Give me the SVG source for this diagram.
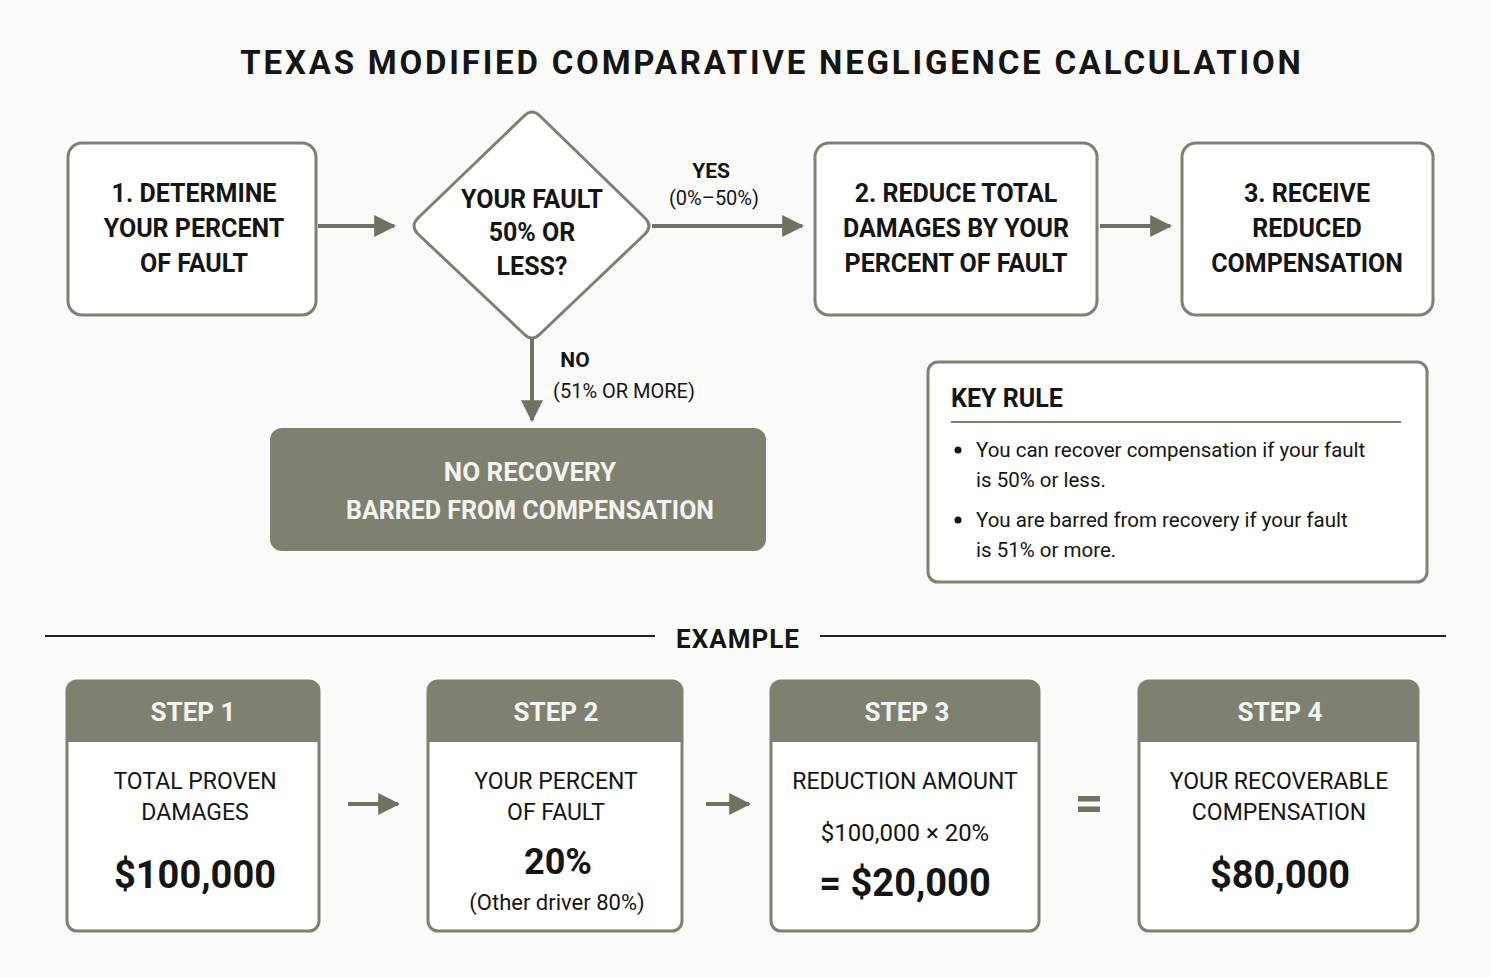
<svg xmlns="http://www.w3.org/2000/svg" width="1491" height="977" viewBox="0 0 1491 977">
<defs>
<style>
.box{fill:#fff;stroke:#7e8171;stroke-width:3}
.fill{fill:#7e8171}
.t{font-family:Roboto,"DejaVu Sans",sans-serif;fill:#151515;text-anchor:middle}
.b{font-weight:bold}
.w{fill:#f4f4ee}
.ln{stroke:#6f7263;stroke-width:4;fill:none}
</style>
<marker id="ah" viewBox="0 0 10 10" refX="9" refY="5" markerWidth="5.5" markerHeight="5.5" orient="auto"><path d="M0,0L10,5L0,10z" fill="#6f7263"/></marker>
</defs>
<rect width="1491" height="977" fill="#fafaf8"/>
<text class="t b" x="772" y="74" font-size="33" letter-spacing="2.8">TEXAS MODIFIED COMPARATIVE NEGLIGENCE CALCULATION</text>

<g id="connectors">
<line class="ln" x1="318" y1="226" x2="394" y2="226" marker-end="url(#ah)"/>
<line class="ln" x1="652" y1="226" x2="802" y2="226" marker-end="url(#ah)"/>
<line class="ln" x1="1100" y1="226" x2="1170" y2="226" marker-end="url(#ah)"/>
<line class="ln" x1="532" y1="338" x2="532" y2="420" marker-end="url(#ah)"/>
<line class="ln" x1="348" y1="804" x2="398" y2="804" marker-end="url(#ah)"/>
<line class="ln" x1="706" y1="804" x2="749" y2="804" marker-end="url(#ah)"/>
<text class="t b" x="711" y="178" font-size="21">YES</text>
<text class="t" x="714" y="205" font-size="20">(0%–50%)</text>
<text class="t b" x="575" y="367" font-size="21">NO</text>
<text class="t" x="624" y="398" font-size="20">(51% OR MORE)</text>
</g>

<g id="n1"><rect class="box" x="68" y="143" width="248" height="172" rx="14"/>
<text class="t b" font-size="25" x="194" y="202">1. DETERMINE</text><text class="t b" font-size="25" x="194" y="237">YOUR PERCENT</text><text class="t b" font-size="25" x="194" y="272">OF FAULT</text></g>

<g id="n2"><path class="box" d="M524,116Q532,108 540,116L645,218Q653,226 645,234L540,334Q532,342 524,334L418,234Q410,226 418,218Z"/>
<text class="t b" font-size="25" x="532" y="208">YOUR FAULT</text><text class="t b" font-size="25" x="532" y="241">50% OR</text><text class="t b" font-size="25" x="532" y="275">LESS?</text></g>

<g id="n3"><rect class="box" x="815" y="143" width="282" height="172" rx="14"/>
<text class="t b" font-size="25" x="956" y="202">2. REDUCE TOTAL</text><text class="t b" font-size="25" x="956" y="237">DAMAGES BY YOUR</text><text class="t b" font-size="25" x="956" y="272">PERCENT OF FAULT</text></g>

<g id="n4"><rect class="box" x="1182" y="143" width="251" height="172" rx="14"/>
<text class="t b" font-size="25" x="1307" y="202">3. RECEIVE</text><text class="t b" font-size="25" x="1307" y="237">REDUCED</text><text class="t b" font-size="25" x="1307" y="272">COMPENSATION</text></g>

<g id="n5"><rect class="fill" x="270" y="428" width="496" height="123" rx="12"/>
<text class="t b w" font-size="26" x="530" y="481">NO RECOVERY</text><text class="t b w" font-size="25" x="530" y="519">BARRED FROM COMPENSATION</text></g>

<g id="keyrule"><rect class="box" x="928" y="362" width="499" height="220" rx="10"/>
<text class="t b" font-size="25" x="951" y="407" style="text-anchor:start">KEY RULE</text>
<line x1="951" y1="422" x2="1401" y2="422" stroke="#7e8171" stroke-width="2"/>
<g class="t" font-size="20.5">
<circle cx="958" cy="450" r="3.5" fill="#151515"/>
<text x="976" y="457" style="text-anchor:start">You can recover compensation if your fault</text>
<text x="976" y="487" style="text-anchor:start">is 50% or less.</text>
<circle cx="958" cy="520" r="3.5" fill="#151515"/>
<text x="976" y="527" style="text-anchor:start">You are barred from recovery if your fault</text>
<text x="976" y="557" style="text-anchor:start">is 51% or more.</text>
</g></g>

<line x1="45" y1="636" x2="655" y2="636" stroke="#222" stroke-width="2"/>
<line x1="820" y1="636" x2="1446" y2="636" stroke="#222" stroke-width="2"/>
<text class="t b" font-size="26" x="738" y="648" letter-spacing="1">EXAMPLE</text>

<g id="s1"><rect class="box" x="67" y="681" width="252" height="250" rx="10"/>
<path class="fill" d="M67,742V691Q67,681 77,681H309Q319,681 319,691V742Z"/>
<text class="t b w" font-size="26" x="193" y="721">STEP 1</text>
<text class="t" font-size="23" x="195" y="789">TOTAL PROVEN</text><text class="t" font-size="23" x="195" y="820">DAMAGES</text>
<text class="t b" font-size="38" x="195" y="888">$100,000</text></g>

<g id="s2"><rect class="box" x="428" y="681" width="254" height="250" rx="10"/>
<path class="fill" d="M428,742V691Q428,681 438,681H672Q682,681 682,691V742Z"/>
<text class="t b w" font-size="26" x="556" y="721">STEP 2</text>
<text class="t" font-size="23" x="556" y="789">YOUR PERCENT</text><text class="t" font-size="23" x="556" y="820">OF FAULT</text>
<text class="t b" font-size="36" x="558" y="874">20%</text>
<text class="t" font-size="22" x="557" y="910">(Other driver 80%)</text></g>

<g id="s3"><rect class="box" x="771" y="681" width="268" height="250" rx="10"/>
<path class="fill" d="M771,742V691Q771,681 781,681H1029Q1039,681 1039,691V742Z"/>
<text class="t b w" font-size="26" x="907" y="721">STEP 3</text>
<text class="t" font-size="23" x="905" y="789">REDUCTION AMOUNT</text>
<text class="t" font-size="24" x="905" y="841">$100,000 × 20%</text>
<text class="t b" font-size="38" x="905" y="896">= $20,000</text></g>

<text class="t b" font-size="50" x="1089" y="820" style="fill:#6f7263">=</text>

<g id="s4"><rect class="box" x="1139" y="681" width="279" height="250" rx="10"/>
<path class="fill" d="M1139,742V691Q1139,681 1149,681H1408Q1418,681 1418,691V742Z"/>
<text class="t b w" font-size="26" x="1280" y="721">STEP 4</text>
<text class="t" font-size="23" x="1279" y="789">YOUR RECOVERABLE</text><text class="t" font-size="23" x="1279" y="820">COMPENSATION</text>
<text class="t b" font-size="38" x="1280" y="888">$80,000</text></g>
</svg>
